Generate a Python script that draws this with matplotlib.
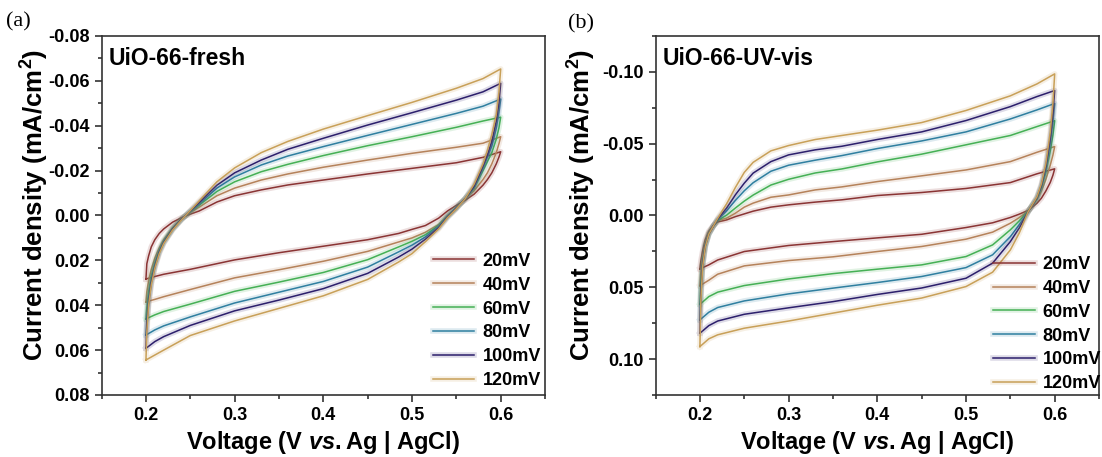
import matplotlib
matplotlib.use("Agg")
import matplotlib.pyplot as plt
import matplotlib.patheffects as pe
from matplotlib.ticker import MultipleLocator, FormatStrFormatter

# scan rates and colours (same order in both panels)
RATES = ["20mV", "40mV", "60mV", "80mV", "100mV", "120mV"]
COLORS = ["#8a3434", "#b5825a", "#45b055", "#2f7fa0", "#2c1f6c", "#c8a058"]

# forward scan voltages (0.2 -> 0.6), shared by both panels
V_FWD = [0.2, 0.201, 0.203, 0.206, 0.21, 0.215, 0.22, 0.23, 0.24, 0.25, 0.26,
         0.28, 0.3, 0.33, 0.36, 0.4, 0.45, 0.5, 0.55, 0.58, 0.6]
# reverse scan voltages (0.6 -> 0.2)
V_REV_A = [0.6, 0.598, 0.595, 0.59, 0.585, 0.58, 0.57, 0.56, 0.55, 0.54, 0.53,
           0.515, 0.5, 0.485, 0.45, 0.4, 0.35, 0.3, 0.25, 0.22, 0.21, 0.2]
V_REV_B = [0.6, 0.598, 0.595, 0.59, 0.585, 0.58, 0.57, 0.56, 0.55, 0.53,
           0.5, 0.45, 0.4, 0.35, 0.3, 0.25, 0.22, 0.21, 0.2]

# (a) UiO-66-fresh, current density mA/cm2
FRESH_FWD = [
    [0.0283, 0.0215, 0.0180, 0.0140, 0.0108, 0.0080, 0.0060, 0.0030, 0.0010, -0.0006, -0.0020,
     -0.0060, -0.0088, -0.0114, -0.0136, -0.0158, -0.0185, -0.0210, -0.0235, -0.0259, -0.0284],
    [0.0385, 0.034, 0.029, 0.024, 0.019, 0.0145, 0.0108, 0.0054, 0.0014, -0.0013, -0.0037,
     -0.0088, -0.0122, -0.0158, -0.0185, -0.0215, -0.0247, -0.0277, -0.0304, -0.0322, -0.0351],
    [0.0461, 0.041, 0.034, 0.027, 0.021, 0.0155, 0.0114, 0.0058, 0.0016, -0.0016, -0.0046,
     -0.0107, -0.0150, -0.0195, -0.0228, -0.0267, -0.0311, -0.0351, -0.0393, -0.0421, -0.0438],
    [0.0533, 0.046, 0.037, 0.029, 0.022, 0.016, 0.0118, 0.0060, 0.0017, -0.0018, -0.0052,
     -0.0122, -0.0172, -0.0225, -0.0265, -0.0307, -0.0357, -0.0406, -0.0455, -0.0487, -0.0519],
    [0.0592, 0.049, 0.039, 0.030, 0.023, 0.0165, 0.0122, 0.0062, 0.0018, -0.0020, -0.0058,
     -0.0135, -0.0190, -0.0247, -0.0295, -0.0344, -0.0403, -0.0458, -0.0514, -0.0551, -0.0589],
    [0.0644, 0.052, 0.040, 0.031, 0.0235, 0.017, 0.0125, 0.0065, 0.0020, -0.0022, -0.0065,
     -0.0150, -0.0212, -0.0280, -0.0330, -0.0385, -0.0445, -0.0504, -0.0567, -0.0610, -0.0653],
]
FRESH_REV = [
    [-0.0284, -0.026, -0.023, -0.019, -0.016, -0.0135, -0.0095, -0.0068, -0.0045, -0.0020, 0.0012,
     0.0045, 0.0062, 0.0080, 0.0108, 0.0137, 0.0166, 0.0198, 0.0240, 0.0262, 0.0272, 0.0283],
    [-0.0351, -0.032, -0.028, -0.023, -0.019, -0.016, -0.011, -0.0075, -0.0035, 0.0000, 0.0040,
     0.0075, 0.0100, 0.0118, 0.0160, 0.0204, 0.0242, 0.0278, 0.0330, 0.0362, 0.0374, 0.0385],
    [-0.0438, -0.039, -0.034, -0.028, -0.024, -0.020, -0.012, -0.0075, -0.0035, 0.0002, 0.0045,
     0.0086, 0.0115, 0.0140, 0.0197, 0.0254, 0.0297, 0.0338, 0.0395, 0.0428, 0.0443, 0.0461],
    [-0.0519, -0.046, -0.039, -0.031, -0.026, -0.021, -0.0125, -0.0075, -0.0035, 0.0004, 0.0050,
     0.0096, 0.0132, 0.0162, 0.0230, 0.0294, 0.0342, 0.0390, 0.0452, 0.0492, 0.0510, 0.0533],
    [-0.0589, -0.050, -0.042, -0.033, -0.027, -0.022, -0.013, -0.0075, -0.0032, 0.0007, 0.0055,
     0.0106, 0.0150, 0.0185, 0.0258, 0.0326, 0.0377, 0.0425, 0.0490, 0.0540, 0.0562, 0.0592],
    [-0.0653, -0.055, -0.045, -0.036, -0.029, -0.023, -0.014, -0.0075, -0.0030, 0.0010, 0.0060,
     0.0117, 0.0170, 0.0207, 0.0285, 0.0358, 0.0414, 0.0470, 0.0535, 0.0600, 0.0622, 0.0644],
]

# (b) UiO-66-UV-vis
UV_FWD = [
    [0.0372, 0.032, 0.025, 0.017, 0.011, 0.007, 0.0045, 0.0031, 0.0008, -0.0011, -0.0030,
     -0.0058, -0.0074, -0.0093, -0.0109, -0.0139, -0.0160, -0.0188, -0.0229, -0.0290, -0.0325],
    [0.0489, 0.040, 0.029, 0.019, 0.012, 0.0075, 0.0035, 0.0019, -0.0016, -0.0058, -0.0086,
     -0.0127, -0.0143, -0.0178, -0.0199, -0.0236, -0.0276, -0.0317, -0.0375, -0.0440, -0.048],
    [0.0619, 0.047, 0.032, 0.0205, 0.0125, 0.0075, 0.0035, -0.0002, -0.0052, -0.0100, -0.0142,
     -0.0212, -0.0252, -0.0296, -0.0324, -0.0373, -0.0427, -0.0492, -0.0557, -0.0619, -0.066],
    [0.0727, 0.052, 0.034, 0.021, 0.013, 0.0075, 0.003, -0.0032, -0.0105, -0.0172, -0.0228,
     -0.0308, -0.0350, -0.0385, -0.0417, -0.0466, -0.0519, -0.0582, -0.0672, -0.0735, -0.078],
    [0.082, 0.056, 0.035, 0.0215, 0.013, 0.0075, 0.0025, -0.0051, -0.0144, -0.0225, -0.0295,
     -0.0375, -0.0422, -0.0457, -0.0482, -0.0529, -0.0582, -0.0661, -0.0758, -0.0828, -0.087],
    [0.0913, 0.060, 0.036, 0.022, 0.013, 0.0075, 0.002, -0.0080, -0.0195, -0.0300, -0.0370,
     -0.0450, -0.0487, -0.0529, -0.0557, -0.0594, -0.0647, -0.0731, -0.0833, -0.0916, -0.0986],
]
UV_REV = [
    [-0.0325, -0.028, -0.023, -0.017, -0.012, -0.0085, -0.0035, -0.0009, 0.0014, 0.0051,
     0.0084, 0.0131, 0.0156, 0.0182, 0.0209, 0.0251, 0.0310, 0.0344, 0.0372],
    [-0.048, -0.042, -0.035, -0.025, -0.017, -0.011, -0.003, 0.0015, 0.0054, 0.0116,
     0.0165, 0.0216, 0.0251, 0.0288, 0.0314, 0.0351, 0.0409, 0.0451, 0.0489],
    [-0.066, -0.056, -0.045, -0.030, -0.019, -0.0115, -0.003, 0.0038, 0.0100, 0.0205,
     0.0286, 0.0344, 0.0374, 0.0405, 0.0442, 0.0488, 0.0534, 0.0565, 0.0619],
    [-0.078, -0.065, -0.050, -0.032, -0.020, -0.012, -0.0025, 0.0065, 0.0147, 0.0274,
     0.0363, 0.0425, 0.0467, 0.0506, 0.0546, 0.0595, 0.0641, 0.0674, 0.0727],
    [-0.087, -0.071, -0.054, -0.034, -0.021, -0.0125, -0.0025, 0.0088, 0.0182, 0.0332,
     0.0437, 0.0505, 0.0550, 0.0600, 0.0643, 0.0688, 0.0735, 0.0767, 0.082],
    [-0.0986, -0.078, -0.058, -0.036, -0.022, -0.013, -0.0025, 0.0123, 0.0240, 0.0395,
     0.0495, 0.0575, 0.0625, 0.0680, 0.0735, 0.0785, 0.0831, 0.0859, 0.0913],
]

plt.rcParams['font.family'] = ['Liberation Sans', 'DejaVu Sans']
plt.rcParams['font.weight'] = 'bold'
plt.rcParams['axes.unicode_minus'] = False
# bold / bold-italic maths so "vs." and the superscript match the label
plt.rcParams['mathtext.fontset'] = 'custom'
plt.rcParams['mathtext.rm'] = 'Liberation Sans:bold'
plt.rcParams['mathtext.bf'] = 'Liberation Sans:bold'
plt.rcParams['mathtext.it'] = 'Liberation Sans:italic:bold'


def draw_panel(ax, v_rev, fwd, rev, ylim, major, title, leg_xy):
    for i, rate in enumerate(RATES):
        glow = [pe.Stroke(linewidth=4, foreground=COLORS[i], alpha=0.16), pe.Normal()]
        ax.plot(V_FWD + v_rev, fwd[i] + rev[i], color=COLORS[i], lw=1.1,
                label=rate, path_effects=glow, solid_joinstyle='round')
    ax.set_xlim(0.15, 0.65)
    ax.set_ylim(ylim, -ylim)   # inverted: negative current on top
    ax.xaxis.set_major_locator(MultipleLocator(0.1))
    ax.xaxis.set_minor_locator(MultipleLocator(0.05))
    ax.yaxis.set_major_locator(MultipleLocator(major))
    ax.yaxis.set_minor_locator(MultipleLocator(major / 2))
    ax.xaxis.set_major_formatter(FormatStrFormatter('%.1f'))
    ax.yaxis.set_major_formatter(FormatStrFormatter('%.2f'))
    ax.tick_params(which='both', direction='out', top=False, right=False,
                   width=1.2, color='#333333')
    ax.tick_params(which='major', length=5, labelsize=13, pad=3.5)
    ax.tick_params(which='minor', length=3)
    for s in ax.spines.values():
        s.set_linewidth(1.2)
        s.set_color('#333333')
    ax.text(0.015, 0.919, title, transform=ax.transAxes, fontsize=16.5,
            fontweight='bold', va='baseline')
    ax.set_xlabel('Voltage (V $\\mathit{vs.}$Ag | AgCl)', fontsize=17,
                  fontweight='bold', va='center')
    ax.set_ylabel('Current density (mA/cm$^\\mathbf{2}$)', fontsize=18.5,
                  fontweight='bold', va='center')
    ax.xaxis.set_label_coords(0.5, -0.131)
    ax.legend(loc='upper left', bbox_to_anchor=leg_xy, frameon=False,
              fontsize=13, handlelength=2.3, handletextpad=0.45,
              labelspacing=0.38, borderpad=0, borderaxespad=0)


fig = plt.figure(figsize=(11.02, 4.57), dpi=100)
ax_a = fig.add_axes([0.0922, 0.1357, 0.4024, 0.7856])
ax_b = fig.add_axes([0.5949, 0.1357, 0.4024, 0.7856])

draw_panel(ax_a, V_REV_A, FRESH_FWD, FRESH_REV, 0.08, 0.02, 'UiO-66-fresh', (0.747, 0.396))
draw_panel(ax_b, V_REV_B, UV_FWD, UV_REV, 0.125, 0.05, 'UiO-66-UV-vis', (0.761, 0.387))
ax_a.yaxis.set_label_coords(-0.15, 0.53)
ax_b.yaxis.set_label_coords(-0.166, 0.53)

fig.text(0.005, 0.952, '(a)', family='Liberation Serif', fontsize=16,
         fontweight='normal', va='center')
fig.text(0.515, 0.947, '(b)', family='Liberation Serif', fontsize=16,
         fontweight='normal', va='center')

fig.savefig('out.png', dpi=100)
